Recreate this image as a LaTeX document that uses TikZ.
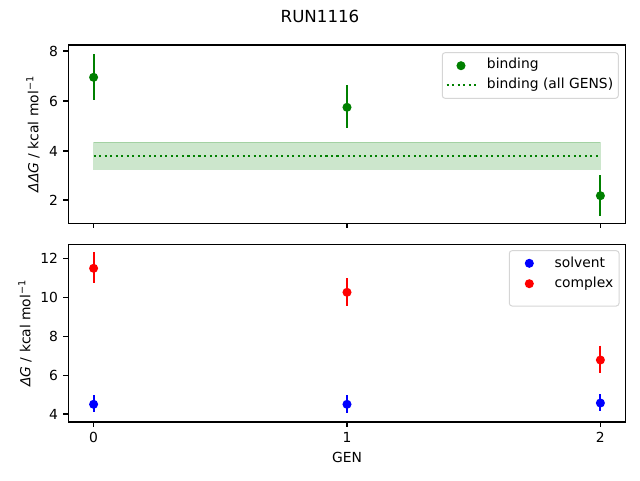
\documentclass[tikz,border=0pt]{standalone}
\usepackage{fontspec}
\setmainfont{DejaVu Sans}
\definecolor{mgreen}{rgb}{0,0.5,0}
\definecolor{mblue}{rgb}{0,0,1}
\definecolor{mred}{rgb}{1,0,0}
\begin{document}
\begin{tikzpicture}[x=0.75pt,y=-0.75pt,
  lbl/.style={font=\fontsize{10.4}{12}\selectfont, inner sep=0pt},
  ylab/.style={lbl, anchor=east},
  xlab/.style={lbl, anchor=center},
  axesbox/.style={draw=black, line width=0.83pt},
  tickline/.style={line width=0.83pt},
  errbar/.style={line width=1.56pt},
  legbox/.style={draw={rgb,255:red,204;green,204;blue,204}, fill=white, fill opacity=0.8, draw opacity=0.8, line width=0.75pt, rounded corners=2.1pt},
  dotline/.style={mgreen, line width=1.56pt, dash pattern=on 1.56pt off 2.58pt}]
\useasboundingbox (0,0) rectangle (640,480);
% title
\node[lbl, font=\fontsize{12.5}{14}\selectfont] (title) at (320,16.5) {RUN1116};

% ---------- top axes ----------
\fill[mgreen, fill opacity=0.2] (93.6,142.3) rectangle (600.4,169.3);
\draw[mgreen, draw opacity=0.2, line width=0.75pt] (93.6,142.3) rectangle (600.4,169.3);
\draw[dotline] (93.6,156) -- (600.4,156);
\foreach \x/\y/\a/\b in {93.6/77.3/54/99.7, 347/107.3/85/127.7, 600.4/195.7/175/215.7}{
  \draw[errbar, mgreen] (\x,\a) -- (\x,\b);
  \fill[mgreen] (\x,\y) circle[radius=3.4pt];
}
\draw[axesbox] (68.3,45) rectangle (625.7,223.3);
\foreach \y/\v in {51/8,101/6,151/4,200/2}{
  \draw[tickline] (68.3,\y) -- (63.4,\y);
  \node[ylab] at (58.3,\y) {\v};
}
\foreach \x in {93.6,347,600.4}{
  \draw[tickline] (\x,223.3) -- (\x,228.2);
}
\node[lbl, rotate=90] (ylabtop) at (33,134.2) {\textit{ΔΔG} / kcal mol\textsuperscript{−1}};
% legend top
\draw[legbox] (442.3,52.7) rectangle (618.3,98.3);
\fill[mgreen] (461,65.7) circle[radius=3.4pt];
\draw[dotline] (446.7,85) -- (475.5,85);
\node[lbl, anchor=west] (lb1) at (486.7,64.5) {binding};
\node[lbl, anchor=west] (lb2) at (486.7,85) {binding (all GENS)};

% ---------- bottom axes ----------
\foreach \x/\y/\a/\b in {93.6/268.3/252.3/282.7, 347/292.3/278/305.7, 600.4/360/345.7/372.7}{
  \draw[errbar, mred] (\x,\a) -- (\x,\b);
  \fill[mred] (\x,\y) circle[radius=3.4pt];
}
\foreach \x/\y/\a/\b in {93.6/404.3/395.3/411.7, 347/404.3/395.3/413.3, 600.4/403/394/410.7}{
  \draw[errbar, mblue] (\x,\a) -- (\x,\b);
  \fill[mblue] (\x,\y) circle[radius=3.4pt];
}
\draw[axesbox] (68.3,244.3) rectangle (625.7,422);
\foreach \y/\v in {258.3/12,297.3/10,336.3/8,375.3/6,414/4}{
  \draw[tickline] (68.3,\y) -- (63.4,\y);
  \node[ylab] at (58.3,\y) {\v};
}
\foreach \x/\v in {93.6/0,347/1,600.4/2}{
  \draw[tickline] (\x,422) -- (\x,426.9);
  \node[xlab] at (\x,437) {\v};
}
\node[lbl] (xlab) at (347,457) {GEN};
\node[lbl, rotate=90] (ylabbot) at (25,333.2) {\textit{ΔG} / kcal mol\textsuperscript{−1}};
% legend bottom
\draw[legbox] (509.3,250.7) rectangle (619,306);
\fill[mblue] (529.3,263.3) circle[radius=3.4pt];
\fill[mred] (529.3,283.7) circle[radius=3.4pt];
\node[lbl, anchor=west] (l1) at (554.3,262.5) {solvent};
\node[lbl, anchor=west] (l2) at (554.3,283.2) {complex};
\end{tikzpicture}
\end{document}
